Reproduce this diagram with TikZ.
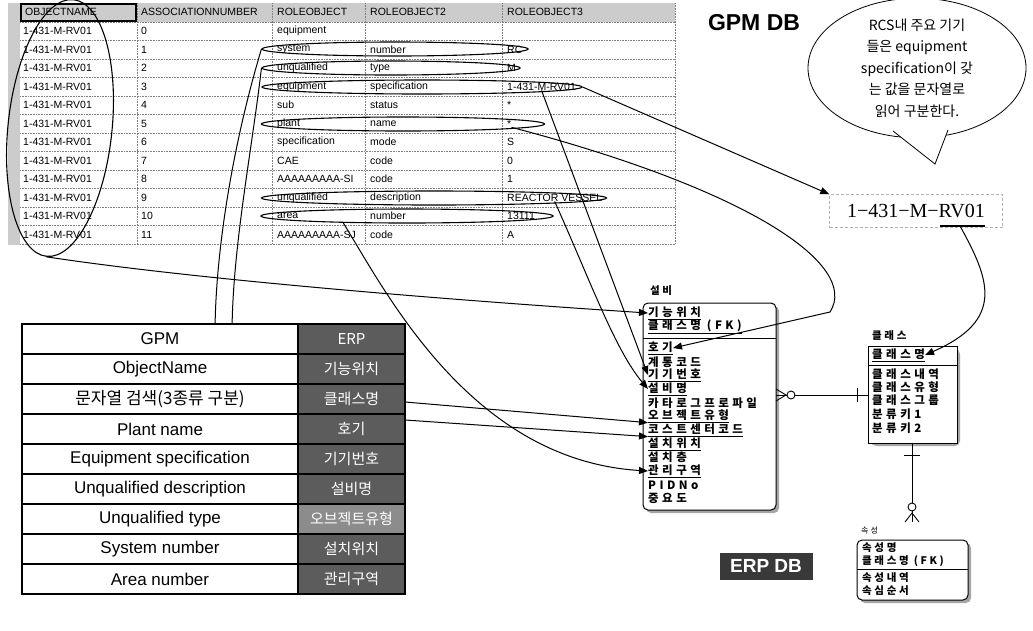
\documentclass[tikz,border=0pt]{standalone}
\usepackage{fontspec}
\setmainfont{Liberation Sans}
\newfontfamily\kr{Noto Sans CJK KR}
\newfontfamily\krsp[LetterSpace=25]{Noto Sans CJK KR}
\newfontfamily\krwide[LetterSpace=30]{Noto Sans CJK KR}
\newfontfamily\serifrm{Liberation Serif}
\usetikzlibrary{arrows.meta,shapes.geometric,calc}
\definecolor{hdrgray}{gray}{0.80}
\definecolor{erpgray}{gray}{0.36}
\definecolor{erplight}{gray}{0.55}
\begin{document}
\begin{tikzpicture}[x=1pt,y=-1pt,
  cell/.style={anchor=west,inner sep=0pt,font=\fontsize{10.5}{10.5}\selectfont},
  grid/.style={densely dotted,gray,line width=0.6pt},
  oval/.style={draw,ellipse,line width=1.1pt,inner sep=0pt},
  conn/.style={draw,line width=1pt,-{Triangle[length=9pt,width=7pt]}},
  gpmcell/.style={anchor=center,inner sep=0pt,font=\fontsize{17}{17}\selectfont},
  erpcell/.style={anchor=center,inner sep=0pt,text=white,font=\kr\fontsize{15}{15}\selectfont},
  ent/.style={draw,line width=1pt,rounded corners=5pt,fill=white},
  entshadow/.style={fill=gray!70,rounded corners=5pt},
  attr/.style={anchor=west,inner sep=0pt,font=\krwide\bfseries\fontsize{11.5}{11.5}\selectfont},
  sattr/.style={anchor=west,inner sep=0pt,font=\krsp\bfseries\fontsize{10.5}{10.5}\selectfont},
  etitle/.style={anchor=west,inner sep=0pt,font=\krsp\bfseries\fontsize{10.5}{10.5}\selectfont},
]
\useasboundingbox (0,0) rectangle (1033,630);
\fill[white] (0,0) rectangle (1033,630);

% ---------------- GPM table ----------------
\fill[hdrgray] (8,3) rectangle (675,22);
\fill[hdrgray] (8,3) rectangle (20,245);
\foreach \k in {0,...,12} { \draw[grid] (20,{22+18.5*\k}) -- (675,{22+18.5*\k}); }
\foreach \x in {137,272,365,502,675} { \draw[grid] (\x,3) -- (\x,244); }
\draw[line width=1.2pt] (21,4) rectangle (136,21);
\node[cell] (h1) at (25,12) {OBJECTNAME};
\node[cell] (h2) at (141,12) {ASSOCIATIONNUMBER};
\node[cell] (h3) at (277,12) {ROLEOBJECT};
\node[cell] (h4) at (370,12) {ROLEOBJECT2};
\node[cell] (h5) at (507,12) {ROLEOBJECT3};
\foreach \r/\b/\c/\d in {0/equipment/{}/{},1/system/number/RC,2/unqualified/type/M,
   3/equipment/specification/1-431-M-RV01,4/sub/status/*,5/plant/name/*,
   6/specification/mode/S,7/CAE/code/0,8/AAAAAAAAA-SI/code/1,
   9/unqualified/description/REACTOR VESSEL,10/area/number/13111,11/AAAAAAAAA-SJ/code/A}{
  \node[cell] (o\r) at (23,{31+18.5*\r}) {1-431-M-RV01};
  \node[cell] (a\r) at (141,{31+18.5*\r}) {\r};
  \node[cell] (p\r) at (277,{31+18.5*\r}) {\b};
  \node[cell] (q\r) at (370,{31+18.5*\r}) {\c};
  \node[cell] (s\r) at (507,{31+18.5*\r}) {\d};
}
% ovals
\node[oval,minimum width=104pt,minimum height=258pt,rotate=-6] (E0) at (60,128) {};
\node[oval,minimum width=266pt,minimum height=14pt] (e1) at (395,49) {};
\node[oval,minimum width=258pt,minimum height=14pt] (e2) at (391,68) {};
\node[oval,minimum width=320pt,minimum height=14pt] (e3) at (422,87) {};
\node[oval,minimum width=283pt,minimum height=14pt] (e5) at (403,124) {};
\node[oval,minimum width=345pt,minimum height=14pt] (e9) at (434,198) {};
\node[oval,minimum width=292pt,minimum height=14pt] (e10) at (407,216) {};
\coordinate (e10b) at (343,222.5);

% ---------------- titles ----------------
\node[font=\bfseries\fontsize{23}{23}\selectfont,inner sep=0pt] (gpmdb) at (754,23) {GPM DB};
\node[draw,ellipse,minimum width=218pt,minimum height=134pt,line width=0.8pt,align=center,
      font=\kr\fontsize{14}{21.5}\selectfont,inner sep=0pt] (call) at (917,68)
      {RCS내 주요 기기\\들은 equipment\\specification이 갖\\는 값을 문자열로\\읽어 구분한다.};
\fill[white] (893,131) -- (935,164) -- (948,131) -- cycle;
\draw[line width=0.8pt] (893,131) -- (935,164) -- (948,130);

\node[draw=gray!60,densely dashed,minimum width=173pt,minimum height=33pt,inner sep=0pt,
      font=\serifrm\fontsize{20}{20}\selectfont] (rv) at (916,211) {1−431−M−RV01};
\coordinate (rvu) at (960,226);
\draw[line width=1.3pt] (940,226) -- (985,226);

% ---------------- ERP entities ----------------
\fill[entshadow] (646,306) rectangle (779,513);
\draw[ent] (643,303) rectangle (776,510);
\draw[line width=1pt] (643,338) -- (776,338);
\node[etitle] (ft) at (650,291) {설비};
\node[attr] (f1) at (648,313) {\underline{기능위치}};
\node[attr] (f2) at (648,327) {\underline{클래스명 (FK)}};
\node[attr] (f3) at (648,348) {\underline{호기}};
\node[attr] (f4) at (648,362) {계통코드};
\node[attr] (f5) at (648,375) {\underline{기기번호}};
\node[attr] (f6) at (648,389) {\underline{설비명}};
\node[attr] (f7) at (648,403) {카타로그프로파일};
\node[attr] (f8) at (648,416) {\underline{오브젝트유형}};
\node[attr] (f9) at (648,430) {\underline{코스트센터코드}};
\node[attr] (f10) at (648,444) {\underline{설치위치}};
\node[attr] (f11) at (648,457) {설치층};
\node[attr] (f12) at (648,471) {\underline{관리구역}};
\node[attr] (f13) at (648,485) {PIDNo};
\node[attr] (f14) at (648,498) {중요도};

\fill[entshadow] (871,349) rectangle (960,446);
\draw[ent,rounded corners=0pt] (868,346) rectangle (957,443);
\draw[line width=1pt] (868,365) -- (957,365);
\node[etitle] (kt) at (872,336) {클래스};
\node[attr] (k1) at (872,355) {\underline{클래스명}};
\node[attr] (k2) at (872,374) {클래스내역};
\node[attr] (k3) at (872,387) {클래스유형};
\node[attr] (k4) at (872,400) {클래스그룹};
\node[attr] (k5) at (872,414) {분류키1};
\node[attr] (k6) at (872,428) {분류키2};

\fill[entshadow] (860,543) rectangle (971,603);
\draw[ent] (857,540) rectangle (968,600);
\draw[line width=1pt] (857,569) -- (968,569);
\node[etitle,font=\krsp\fontsize{8}{8}\selectfont] (at) at (861,530) {속성};
\node[sattr] (t1) at (862,548) {속성명};
\node[sattr] (t2) at (862,561) {클래스명 (FK)};
\node[sattr] (t3) at (862,578) {속성내역};
\node[sattr] (t4) at (862,591) {속심순서};

\node[fill=gray!45!black,text=white,font=\bfseries\fontsize{19}{19}\selectfont,
      minimum width=93pt,minimum height=27pt,inner sep=0pt] (erpdb) at (766,566) {ERP DB};

% relationships
\coordinate (r1a) at (776,395);
\coordinate (r1b) at (868,395);
\draw[line width=0.9pt] (r1a) -- (r1b);
\draw[line width=0.9pt] (776,389) -- (786,395) -- (776,401);
\draw[line width=0.9pt,fill=white] (791,395) circle (4);
\draw[line width=0.9pt] (857,388) -- (857,402);
\coordinate (r2a) at (912,443);
\coordinate (r2b) at (912,522);
\draw[line width=0.9pt] (r2a) -- (r2b);
\draw[line width=0.9pt] (904,455) -- (920,455);
\draw[line width=0.9pt,fill=white] (912,507) circle (4);
\draw[line width=0.9pt] (905,522) -- (912,513) -- (919,522);

% ---------------- connectors ----------------
\draw[conn] (E0.south) .. controls (200,280) and (450,300) .. (f1.west);
\draw[conn] (e1.west) .. controls (234,140) and (215,250) .. (215,335) .. controls (215,400) and (380,418) .. (405,420) -- (f9.south west);
\draw[conn] (e2.west) .. controls (252,150) and (232,250) .. (232,335) .. controls (232,390) and (380,400) .. (405,402) -- (f8.south west);
\draw[conn] (e3.east) -- (rv.north west);
\draw[conn] (s3.south) -- (f5.west);
\draw[conn] (s9.south) .. controls (590,280) and (615,350) .. (f6.west);
\draw[conn] (s5.south east) .. controls (750,190) and (860,265) .. (830,312) -- (f3.east);
\draw[conn] (rvu) .. controls (990,280) and (1005,320) .. (k1.east);
\draw[conn] (e10b) .. controls (385,290) and (470,460) .. (f12.west);

% ---------------- mapping table ----------------
\fill[white] (22,324) rectangle (298,594);
\fill[erpgray] (298,324) rectangle (405,594);
\fill[erplight] (298,504) rectangle (405,534);
\foreach \k in {1,...,8} { \draw[line width=1.5pt] (22,{324+30*\k}) -- (405,{324+30*\k}); }
\draw[line width=1.5pt] (298,324) -- (298,594);
\draw[line width=2pt] (22,324) rectangle (405,594);
\foreach \k/\g/\e in {0/GPM/ERP,1/ObjectName/기능위치,2/{\kr 문자열 검색(3종류 구분)}/클래스명,
   3/Plant name/호기,4/Equipment specification/기기번호,5/Unqualified description/설비명,
   6/Unqualified type/오브젝트유형,7/System number/설치위치,8/Area number/관리구역}{
  \node[gpmcell] (g\k) at (160,{339+30*\k}) {\g};
  \node[erpcell] (m\k) at (351.5,{339+30*\k}) {\e};
}
\end{tikzpicture}
\end{document}
